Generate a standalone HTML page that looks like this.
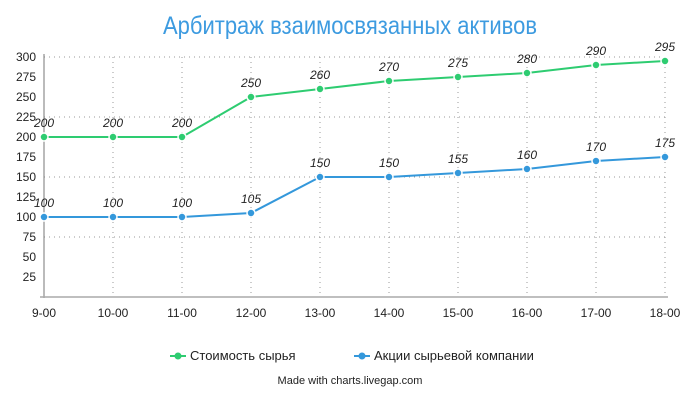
<!DOCTYPE html><html><head><meta charset="utf-8"><style>body{margin:0;background:#fff}svg text{font-family:"Liberation Sans Narrow","Liberation Sans",sans-serif}</style></head><body>
<svg width="700" height="400" viewBox="0 0 700 400">
<text x="350" y="34" text-anchor="middle" font-size="25" fill="#3d9be0" textLength="374" lengthAdjust="spacingAndGlyphs">Арбитраж взаимосвязанных активов</text>
<g stroke="#999" stroke-dasharray="1,4" stroke-width="1">
<line x1="44" y1="57" x2="668" y2="57"/><line x1="44" y1="117" x2="668" y2="117"/><line x1="44" y1="177" x2="668" y2="177"/><line x1="44" y1="237" x2="668" y2="237"/>
<line x1="113" y1="57" x2="113" y2="297"/><line x1="182" y1="57" x2="182" y2="297"/><line x1="251" y1="57" x2="251" y2="297"/><line x1="320" y1="57" x2="320" y2="297"/><line x1="389" y1="57" x2="389" y2="297"/><line x1="458" y1="57" x2="458" y2="297"/><line x1="527" y1="57" x2="527" y2="297"/><line x1="596" y1="57" x2="596" y2="297"/><line x1="665" y1="57" x2="665" y2="297"/>
</g>
<line x1="44" y1="54" x2="44" y2="298" stroke="#777"/>
<line x1="40" y1="297" x2="668" y2="297" stroke="#aaa" stroke-width="1.5"/>
<g font-size="12" fill="#222" text-anchor="end">
<text x="36" y="61">300</text><text x="36" y="81">275</text><text x="36" y="101">250</text><text x="36" y="121">225</text><text x="36" y="141">200</text><text x="36" y="161">175</text><text x="36" y="181">150</text><text x="36" y="201">125</text><text x="36" y="221">100</text><text x="36" y="241">75</text><text x="36" y="261">50</text><text x="36" y="281">25</text>
</g>
<g font-size="12" fill="#222" text-anchor="middle">
<text x="44" y="317">9-00</text><text x="113" y="317">10-00</text><text x="182" y="317">11-00</text><text x="251" y="317">12-00</text><text x="320" y="317">13-00</text><text x="389" y="317">14-00</text><text x="458" y="317">15-00</text><text x="527" y="317">16-00</text><text x="596" y="317">17-00</text><text x="665" y="317">18-00</text>
</g>
<polyline fill="none" stroke="#2ecc71" stroke-width="2" points="44,137 113,137 182,137 251,97 320,89 389,81 458,77 527,73 596,65 665,61"/>
<polyline fill="none" stroke="#3498db" stroke-width="2" points="44,217 113,217 182,217 251,213 320,177 389,177 458,173 527,169 596,161 665,157"/>
<g fill="#2ecc71" stroke="#fff" stroke-width="1.5"><circle cx="44" cy="137" r="4"/><circle cx="113" cy="137" r="4"/><circle cx="182" cy="137" r="4"/><circle cx="251" cy="97" r="4"/><circle cx="320" cy="89" r="4"/><circle cx="389" cy="81" r="4"/><circle cx="458" cy="77" r="4"/><circle cx="527" cy="73" r="4"/><circle cx="596" cy="65" r="4"/><circle cx="665" cy="61" r="4"/></g>
<g fill="#3498db" stroke="#fff" stroke-width="1.5"><circle cx="44" cy="217" r="4"/><circle cx="113" cy="217" r="4"/><circle cx="182" cy="217" r="4"/><circle cx="251" cy="213" r="4"/><circle cx="320" cy="177" r="4"/><circle cx="389" cy="177" r="4"/><circle cx="458" cy="173" r="4"/><circle cx="527" cy="169" r="4"/><circle cx="596" cy="161" r="4"/><circle cx="665" cy="157" r="4"/></g>
<g font-size="12" font-style="italic" fill="#222" text-anchor="middle">
<text x="44" y="127">200</text><text x="113" y="127">200</text><text x="182" y="127">200</text><text x="251" y="87">250</text><text x="320" y="79">260</text><text x="389" y="71">270</text><text x="458" y="67">275</text><text x="527" y="63">280</text><text x="596" y="55">290</text><text x="665" y="51">295</text>
<text x="44" y="207">100</text><text x="113" y="207">100</text><text x="182" y="207">100</text><text x="251" y="203">105</text><text x="320" y="167">150</text><text x="389" y="167">150</text><text x="458" y="163">155</text><text x="527" y="159">160</text><text x="596" y="151">170</text><text x="665" y="147">175</text>
</g>
<line x1="170" y1="356" x2="186" y2="356" stroke="#2ecc71" stroke-width="2"/><circle cx="178" cy="356" r="3.5" fill="#2ecc71"/>
<text x="190" y="360" font-size="13" fill="#222">Стоимость сырья</text>
<line x1="354" y1="356" x2="370" y2="356" stroke="#3498db" stroke-width="2"/><circle cx="362" cy="356" r="3.5" fill="#3498db"/>
<text x="374" y="360" font-size="13" fill="#222">Акции сырьевой компании</text>
<text x="350" y="384" font-size="11" fill="#222" text-anchor="middle">Made with charts.livegap.com</text>
</svg></body></html>
